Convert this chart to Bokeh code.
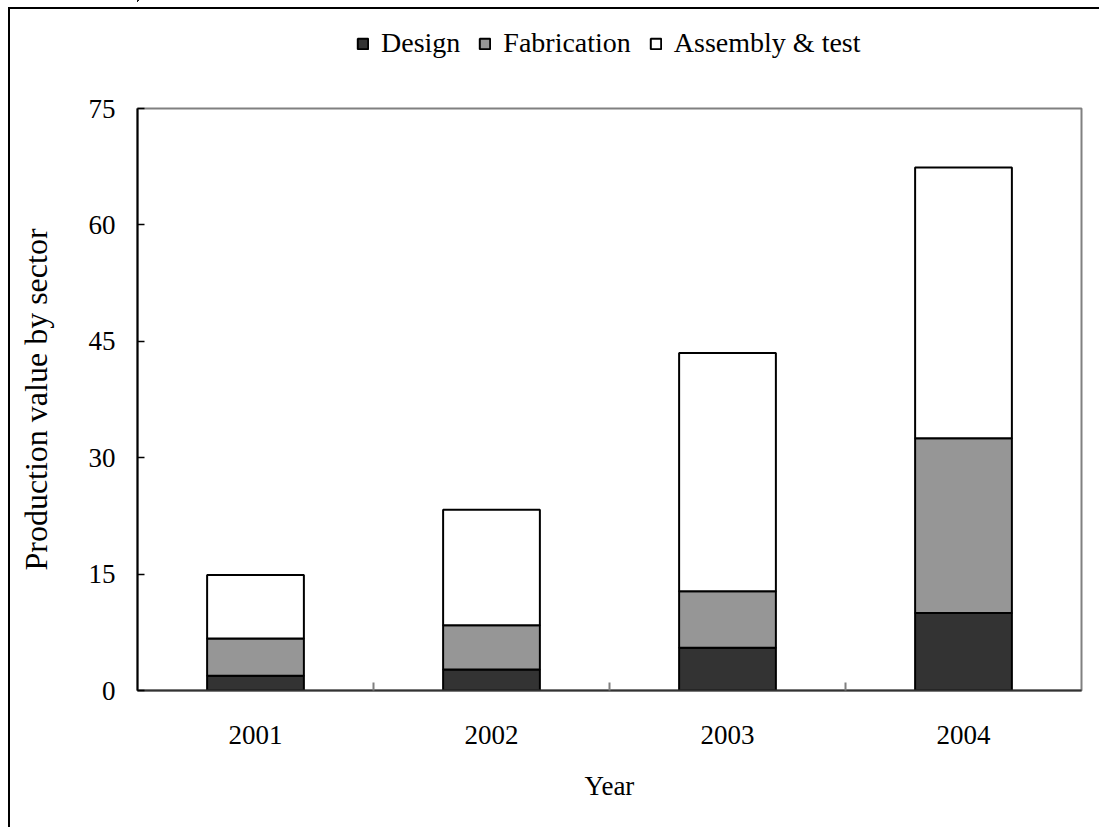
from bokeh.plotting import figure
from bokeh.layouts import column
from bokeh.models import ColumnDataSource, FixedTicker, Legend, LegendItem
from bokeh.embed import file_html
from bokeh.resources import INLINE

# Production value by sector, per year
years = ["2001", "2002", "2003", "2004"]
design = [1.9, 2.7, 5.5, 10.0]
fabrication = [4.8, 5.7, 7.3, 22.5]
assembly = [8.2, 14.9, 30.7, 34.9]
sectors = ["Design", "Fabrication", "Assembly & test"]
colors = ["#333333", "#969696", "#ffffff"]
y_ticks = [0, 15, 30, 45, 60, 75]

FONT = "Liberation Serif"
FS = "27px"
KEY_H = 88  # height of the strip holding the legend
STACK = ["design", "fabrication", "assembly"]

# each year occupies one unit slot; bars sit in the middle of the slot
x = [i + 0.5 for i in range(len(years))]
source = ColumnDataSource(dict(x=x, design=design, fabrication=fabrication, assembly=assembly))

p = figure(width=1099, height=827 - KEY_H, x_range=(0, len(years)), y_range=(0, 75),
           output_backend="svg", toolbar_location=None,
           min_border_left=137, min_border_right=18, min_border_top=108 - KEY_H, min_border_bottom=137)

p.vbar_stack(STACK, x="x", width=0.41, source=source,
             fill_color=colors, line_color="black", line_width=2)

p.grid.visible = False
p.outline_line_color = "#808080"
p.outline_line_width = 2
p.background_fill_color = "white"
p.border_fill_color = "white"

# x axis: year labels at slot centres, short marks at slot boundaries
xa = p.xaxis[0]
xa.ticker = FixedTicker(ticks=x, minor_ticks=[float(i) for i in range(1, len(years))])
xa.major_label_overrides = {xv: yr for xv, yr in zip(x, years)}
xa.major_tick_in = 0
xa.major_tick_out = 0
xa.minor_tick_in = 8
xa.minor_tick_out = 0
xa.minor_tick_line_color = "#808080"
xa.minor_tick_line_width = 2
xa.axis_line_color = "#333333"
xa.axis_line_width = 2
xa.axis_label = "Year"
xa.major_label_standoff = 35
xa.axis_label_standoff = 24

ya = p.yaxis[0]
ya.ticker = FixedTicker(ticks=y_ticks, minor_ticks=[])
ya.major_tick_in = 7
ya.major_tick_out = 0
ya.major_tick_line_color = "black"
ya.major_tick_line_width = 1.5
ya.axis_line_color = "black"
ya.axis_line_width = 2
ya.axis_label = "Production value by sector"
ya.major_label_standoff = 22
ya.axis_label_standoff = 32

for ax in (xa, ya):
    ax.major_label_text_font = FONT
    ax.major_label_text_font_size = FS
    ax.major_label_text_color = "black"
    ax.axis_label_text_font = FONT
    ax.axis_label_text_font_size = FS
    ax.axis_label_text_font_style = "normal"
    ax.axis_label_text_color = "black"
ya.axis_label_text_font_size = "32px"

# legend strip above the chart; its stacked bars lie far outside its visible
# ranges, so only the legend swatches and labels show
key = figure(width=1099, height=KEY_H, x_range=(100, 100 + len(years)), y_range=(-2, -1),
             x_axis_type=None, y_axis_type=None, output_backend="svg", toolbar_location=None,
             min_border_left=137, min_border_right=18, min_border_top=0, min_border_bottom=0)
key.grid.visible = False
key.outline_line_color = None
key.background_fill_color = "white"
key.border_fill_color = "white"
swatches = key.vbar_stack(STACK, x="x", width=0.41, source=source,
                          fill_color=colors, line_color="black", line_width=2)

lg = Legend(items=[LegendItem(label=s, renderers=[r]) for s, r in zip(sectors, swatches)],
            orientation="horizontal", location=(219, 29),
            padding=0, margin=0, spacing=18, label_standoff=12,
            glyph_width=13, glyph_height=13,
            border_line_color=None, background_fill_alpha=0,
            label_text_font=FONT, label_text_font_size="28px", label_text_color="black")
key.add_layout(lg)

layout = column(key, p, spacing=0)

html = file_html(layout, INLINE)
# thin frame around the whole page
frame_div = ('<div style="position:fixed;left:8px;top:7px;width:1200px;height:1000px;'
             'border:2.5px solid black;pointer-events:none;z-index:10;"></div>')
html = html.replace("</body>", frame_div + "</body>", 1)
open("out.html", "w").write(html)
